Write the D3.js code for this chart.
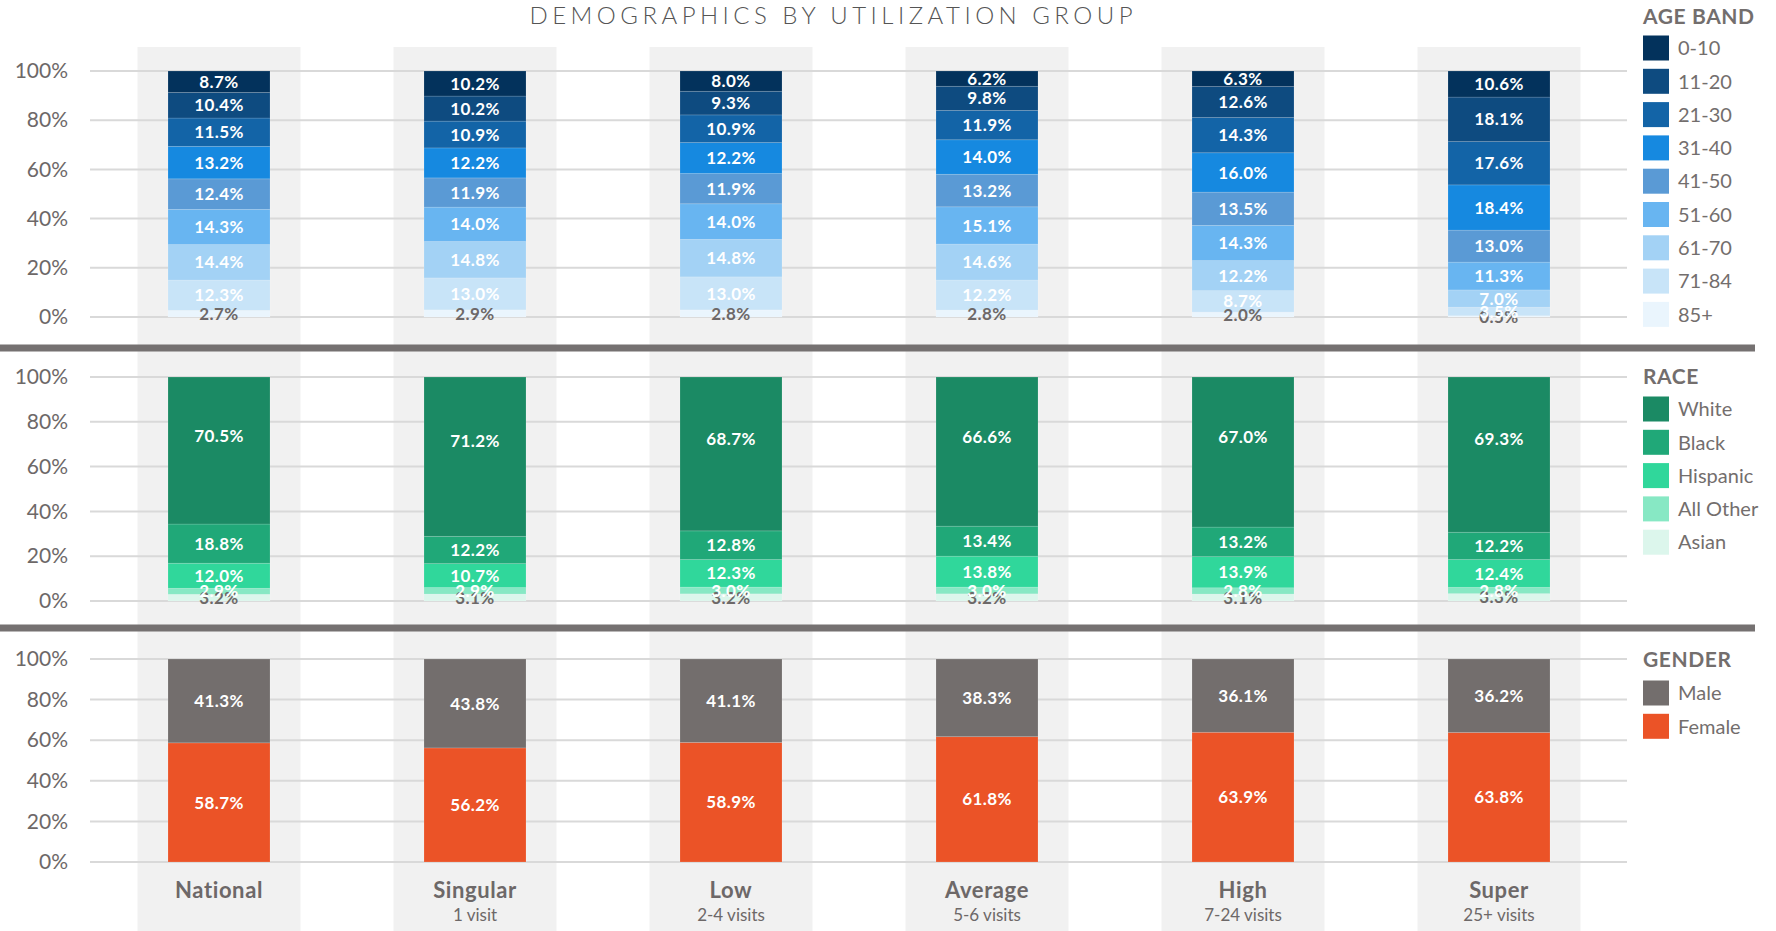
<!DOCTYPE html>
<html>
<head>
<meta charset="utf-8">
<script src="https://cdn.jsdelivr.net/npm/d3@7"></script>
<style>
  html, body { margin: 0; padding: 0; background: #ffffff; }
  svg { display: block; font-family: Lato, "Open Sans", sans-serif; }
</style>
</head>
<body>
<svg id="chart" width="1776" height="931"></svg>
<script>
// ---------- data ----------
const categories = ["National", "Singular", "Low", "Average", "High", "Super"];
const subLabels = ["", "1 visit", "2-4 visits", "5-6 visits", "7-24 visits", "25+ visits"];

const ageBands = ["0-10", "11-20", "21-30", "31-40", "41-50", "51-60", "61-70", "71-84", "85+"];
const age0_10   = [8.7, 10.2, 8.0, 6.2, 6.3, 10.6];
const age11_20  = [10.4, 10.2, 9.3, 9.8, 12.6, 18.1];
const age21_30  = [11.5, 10.9, 10.9, 11.9, 14.3, 17.6];
const age31_40  = [13.2, 12.2, 12.2, 14.0, 16.0, 18.4];
const age41_50  = [12.4, 11.9, 11.9, 13.2, 13.5, 13.0];
const age51_60  = [14.3, 14.0, 14.0, 15.1, 14.3, 11.3];
const age61_70  = [14.4, 14.8, 14.8, 14.6, 12.2, 7.0];
const age71_84  = [12.3, 13.0, 13.0, 12.2, 8.7, 3.5];
const age85plus = [2.7, 2.9, 2.8, 2.8, 2.0, 0.5];
const ageColors = ["#03325c", "#0e4b80", "#1364a7", "#1689e0", "#5a9ad5", "#68b5f1", "#a3d2f5", "#c8e4f8", "#eaf5fd"];

const races = ["White", "Black", "Hispanic", "All Other", "Asian"];
const raceWhite    = [70.5, 71.2, 68.7, 66.6, 67.0, 69.3];
const raceBlack    = [18.8, 12.2, 12.8, 13.4, 13.2, 12.2];
const raceHispanic = [12.0, 10.7, 12.3, 13.8, 13.9, 12.4];
const raceAllOther = [2.9, 2.9, 3.0, 3.0, 2.8, 2.8];
const raceAsian    = [3.2, 3.1, 3.2, 3.2, 3.1, 3.3];
const raceColors = ["#1b8a64", "#20a878", "#30d79b", "#87e8c4", "#dcf6ec"];

const genders = ["Male", "Female"];
const genderMale   = [41.3, 43.8, 41.1, 38.3, 36.1, 36.2];
const genderFemale = [58.7, 56.2, 58.9, 61.8, 63.9, 63.8];
const genderColors = ["#736e6d", "#eb5327"];

const yTicks = [0, 0.2, 0.4, 0.6, 0.8, 1.0];
const chartTitle = "DEMOGRAPHICS BY UTILIZATION GROUP";

// ---------- setup ----------
const svg = d3.select("#chart");
const textGray = "#6d6868";

const x = d3.scaleBand().domain(categories).range([91, 1627]).padding(0);
const barW = 102, bandW = 163;
const legX = 1643;

const panels = [
  { title: "AGE BAND", keys: ageBands, colors: ageColors,
    series: [age0_10, age11_20, age21_30, age31_40, age41_50, age51_60, age61_70, age71_84, age85plus],
    y: d3.scaleLinear().domain([0, 1]).range([317, 71]), titleY: 16, legendY: 48 },
  { title: "RACE", keys: races, colors: raceColors,
    series: [raceWhite, raceBlack, raceHispanic, raceAllOther, raceAsian],
    y: d3.scaleLinear().domain([0, 1]).range([601, 377]), titleY: 376, legendY: 409 },
  { title: "GENDER", keys: genders, colors: genderColors,
    series: [genderMale, genderFemale],
    y: d3.scaleLinear().domain([0, 1]).range([862, 659]), titleY: 659, legendY: 693 }
];

// background column bands
svg.append("g").selectAll("rect").data(categories).join("rect")
  .attr("x", d => x(d) + (x.bandwidth() - bandW) / 2)
  .attr("y", 47).attr("width", bandW).attr("height", 931 - 47)
  .attr("fill", "#f1f1f1");

// title
svg.append("text")
  .attr("x", 831).attr("y", 16).attr("dy", "0.35em")
  .attr("text-anchor", "middle")
  .attr("font-size", 24).attr("font-weight", 300)
  .attr("fill", "#555555")
  .attr("textLength", 603).attr("lengthAdjust", "spacing")
  .text(chartTitle);

panels.forEach((p, pi) => {
  const g = svg.append("g");
  // gridlines
  g.append("g").selectAll("line").data(yTicks).join("line")
    .attr("x1", 90).attr("x2", 1627)
    .attr("y1", d => p.y(d)).attr("y2", d => p.y(d))
    .attr("stroke", "#d9d9d9").attr("stroke-width", 2);
  // axis labels
  const axis = d3.axisLeft(p.y).tickValues(yTicks).tickFormat(d3.format(".0%")).tickSize(0).tickPadding(22);
  const ag = g.append("g").attr("transform", "translate(90,0)").call(axis);
  ag.select(".domain").remove();
  ag.selectAll("text").attr("font-size", 21).attr("fill", textGray)
    .attr("font-family", "Lato, sans-serif").attr("font-weight", 400);

  // stacked data
  const rows = categories.map((c, i) => {
    const r = { cat: c };
    p.keys.forEach((k, ki) => { r[k] = p.series[ki][i]; });
    return r;
  });
  const stackKeys = p.keys.slice().reverse();
  const stacked = d3.stack().keys(stackKeys).offset(d3.stackOffsetExpand)(rows);
  const color = d3.scaleOrdinal().domain(p.keys).range(p.colors);
  const bottomKey = p.keys[p.keys.length - 1];

  const sg = g.append("g").selectAll("g").data(stacked).join("g")
    .attr("fill", d => color(d.key));
  sg.selectAll("rect").data(d => d).join("rect")
    .attr("x", d => x(d.data.cat) + (x.bandwidth() - barW) / 2)
    .attr("y", d => p.y(d[1]))
    .attr("width", barW)
    .attr("height", d => p.y(d[0]) - p.y(d[1]))
    .attr("stroke", "rgba(255,255,255,0.18)").attr("stroke-width", 0.8);

  // labels
  const lg = g.append("g");
  stacked.forEach(s => {
    const isBottom = pi < 2 && s.key === bottomKey;
    const frac = (pi === 1 && s.key === "White") ? 0.4 : 0.5;
    lg.append("g").selectAll("text").data(s).join("text")
      .attr("x", d => x(d.data.cat) + x.bandwidth() / 2)
      .attr("y", d => p.y(d[1]) + (p.y(d[0]) - p.y(d[1])) * frac)
      .attr("dy", "0.36em")
      .attr("text-anchor", "middle")
      .attr("font-size", 17).attr("font-weight", 700).attr("letter-spacing", 0.4)
      .attr("fill", isBottom ? textGray : "#ffffff")
      .text(d => d3.format(".1f")(d.data[s.key]) + "%");
  });

  // legend
  const leg = svg.append("g");
  leg.append("text").attr("x", legX).attr("y", p.titleY).attr("dy", "0.36em")
    .attr("font-size", 21).attr("font-weight", 700).attr("letter-spacing", 0.6).attr("fill", "#736e6d")
    .text(p.title);
  const items = leg.selectAll("g.item").data(p.keys).join("g").attr("class", "item")
    .attr("transform", (d, i) => `translate(${legX},${p.legendY + i * 33.3})`);
  items.append("rect").attr("x", 0).attr("y", -12.5).attr("width", 26).attr("height", 25)
    .attr("fill", d => color(d));
  items.append("text").attr("x", 35).attr("y", 0).attr("dy", "0.36em")
    .attr("font-size", 20).attr("fill", "#736e6d").text(d => d);
});

// separators
svg.append("g").selectAll("line").data([348, 628]).join("line")
  .attr("x1", 0).attr("x2", 1755).attr("y1", d => d).attr("y2", d => d)
  .attr("stroke", "#757171").attr("stroke-width", 7);

// category labels
const cl = svg.append("g");
cl.selectAll("text.cat").data(categories).join("text").attr("class", "cat")
  .attr("x", d => x(d) + x.bandwidth() / 2).attr("y", 890).attr("dy", "0.36em")
  .attr("text-anchor", "middle").attr("font-size", 22).attr("font-weight", 700)
  .attr("letter-spacing", 0.6).attr("fill", textGray).text(d => d);
cl.selectAll("text.sub").data(categories).join("text").attr("class", "sub")
  .attr("x", d => x(d) + x.bandwidth() / 2).attr("y", 915).attr("dy", "0.36em")
  .attr("text-anchor", "middle").attr("font-size", 17).attr("fill", textGray)
  .text((d, i) => subLabels[i]);
</script>
</body>
</html>
